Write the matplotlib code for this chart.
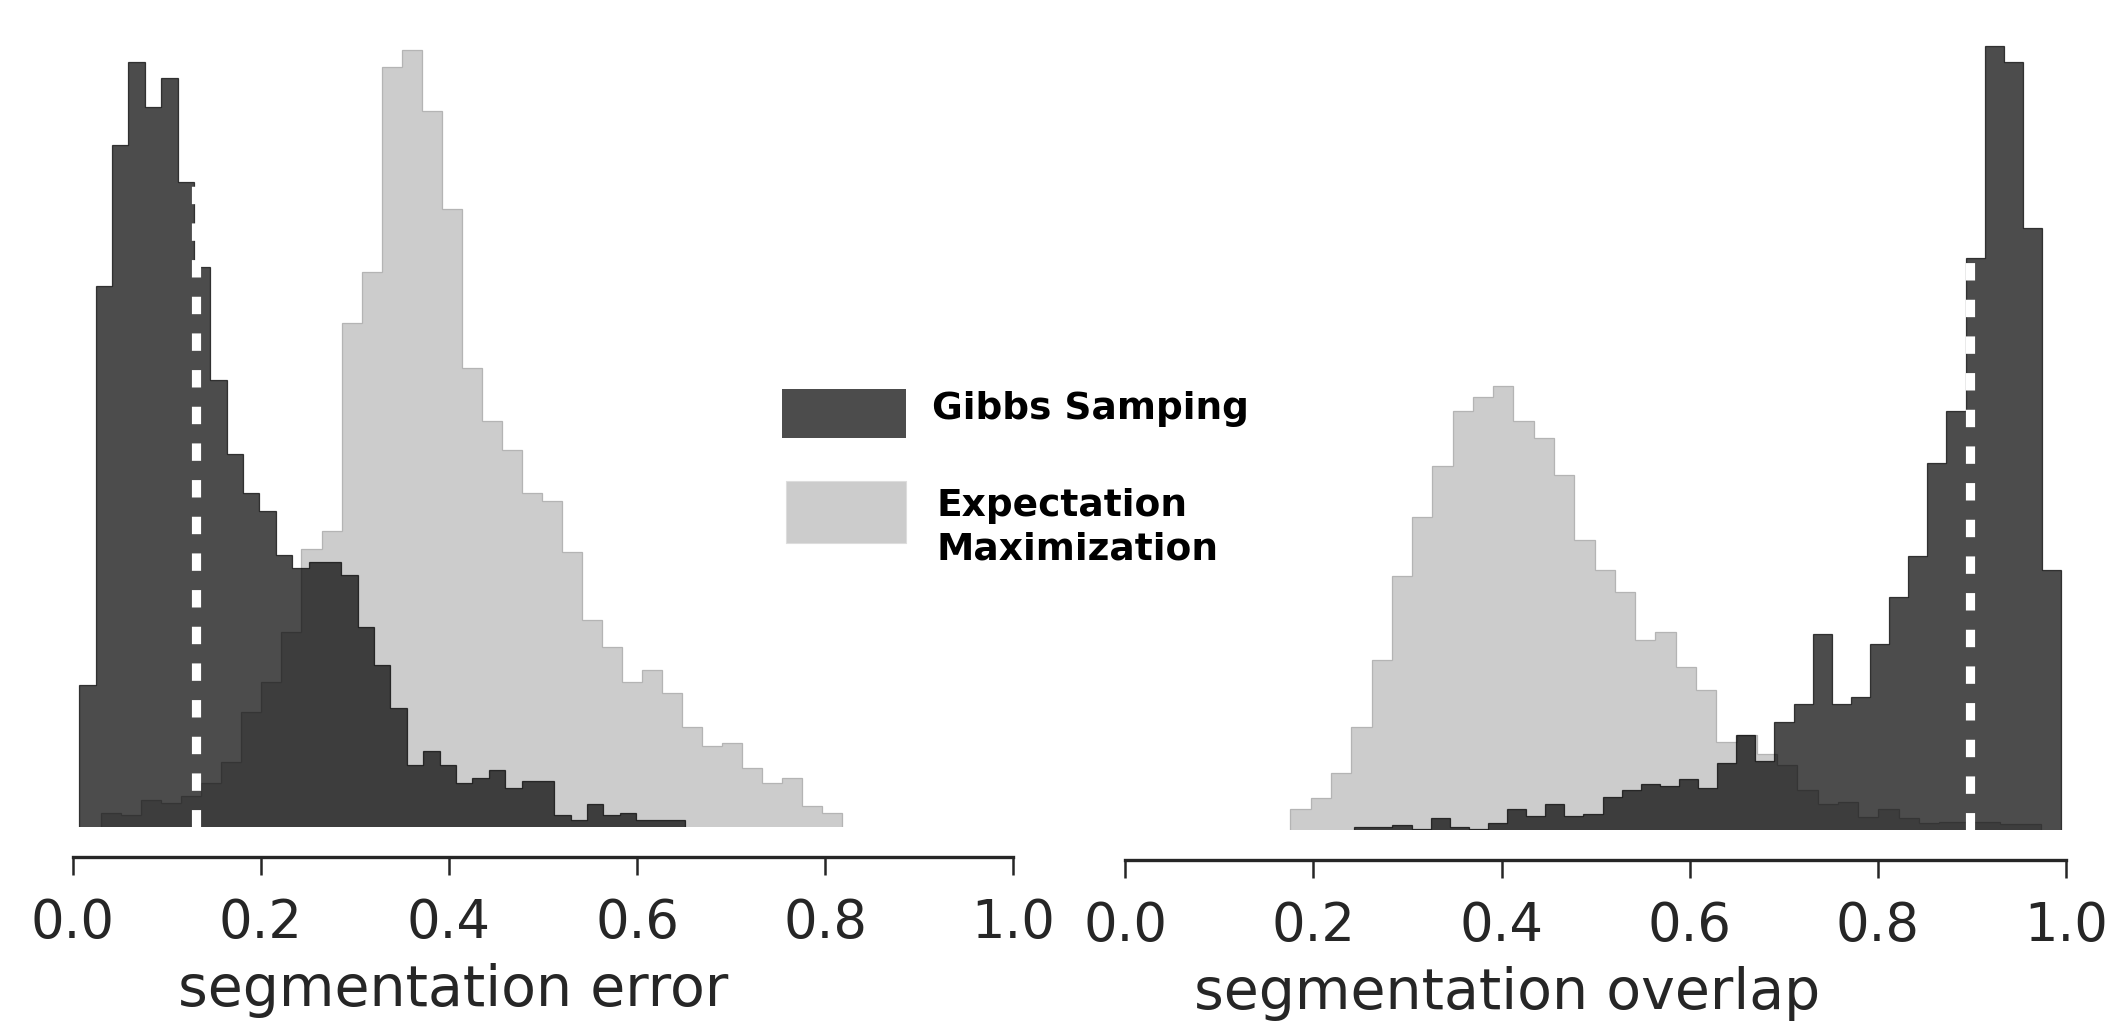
import numpy as np
import matplotlib
matplotlib.use("Agg")
import matplotlib.pyplot as plt
from matplotlib.patches import Rectangle

# --- Data: bin heights (37 bins per series, arbitrary count units) ---
# left panel: segmentation error
err_gibbs = [142.0, 541.3, 682.3, 765.0, 720.0, 749.0, 645.1, 559.9, 447.3, 373.5,
             333.7, 315.6, 272.2, 259.3, 265.0, 265.0, 252.1, 200.4, 161.7, 118.8,
             62.5, 75.7, 61.7, 43.7, 48.7, 56.7, 38.7, 45.7, 45.7, 11.7,
             7.0, 22.7, 11.7, 14.3, 6.7, 6.7, 6.7]
err_em = [14.5, 11.9, 27.4, 23.8, 31.0, 43.9, 65.1, 115.2, 145.1, 195.2,
          277.9, 296.5, 504.1, 555.3, 759.8, 777.4, 716.4, 618.3, 458.7, 406.0,
          377.1, 333.7, 325.9, 275.3, 206.6, 179.8, 145.1, 157.5, 134.3, 100.2,
          81.1, 83.7, 59.4, 43.9, 49.1, 20.7, 14.5]
err_gibbs_range = (0.0069, 0.6513)
err_em_range = (0.0303, 0.8180)
err_gibbs_median = 0.1307
err_median_height = 645

# right panel: segmentation overlap
ovl_gibbs = [2.7, 2.7, 4.7, 1.0, 11.7, 2.7, 1.0, 6.7, 20.7, 13.7,
             25.7, 13.7, 15.7, 32.7, 39.7, 45.7, 43.7, 50.7, 41.7, 66.7,
             95.0, 69.3, 108.5, 126.0, 196.3, 126.0, 133.3, 186.5, 233.0, 274.3,
             366.7, 418.9, 572.3, 783.6, 767.6, 602.3, 260.3]
ovl_em = [20.7, 32.5, 57.3, 103.3, 169.9, 254.1, 313.0, 364.2, 418.9, 432.9,
          444.2, 408.6, 392.0, 355.4, 289.8, 259.8, 237.6, 190.1, 197.8, 163.2,
          140.0, 87.8, 95.0, 76.0, 64.7, 40.0, 26.0, 27.7, 13.3, 21.0,
          12.0, 6.7, 7.7, 7.7, 7.7, 6.0, 6.0]
ovl_gibbs_range = (0.2435, 0.9946)
ovl_em_range = (0.1757, 0.9730)
ovl_gibbs_median = 0.8984
ovl_median_height = 570

series_names = ["Gibbs Samping", "Expectation\nMaximization"]
x_labels = ["segmentation error", "segmentation overlap"]
x_ticks = [0.0, 0.2, 0.4, 0.6, 0.8, 1.0]

# --- Styling ---
W, H, DPI = 2114, 1024, 100
EM_COLOR = "#cccccc"
EM_EDGE = "#b4b4b4"
GIBBS_COLOR = "black"
GIBBS_ALPHA = 0.7
TEXT_COLOR = "#262626"
Y_TOP = 787  # y-range of both panels (same units as the bin heights)

plt.rcParams["font.family"] = ["DejaVu Sans"]

fig = plt.figure(figsize=(W / DPI, H / DPI), dpi=DPI)


def px_axes(x0, x1, y_base):
    # axes box given in pixel coordinates of the final image
    return fig.add_axes([x0 / W, (H - y_base) / H, (x1 - x0) / W, Y_TOP / H])


def draw_panel(ax, em, em_range, gibbs, gibbs_range, median, median_h, xlabel, label_x):
    em_edges = np.linspace(em_range[0], em_range[1], len(em) + 1)
    gibbs_edges = np.linspace(gibbs_range[0], gibbs_range[1], len(gibbs) + 1)
    ax.stairs(em, em_edges, fill=True, facecolor=EM_COLOR, edgecolor=EM_EDGE, linewidth=0.9)
    ax.stairs(gibbs, gibbs_edges, fill=True, facecolor=GIBBS_COLOR, edgecolor=GIBBS_COLOR,
              alpha=GIBBS_ALPHA, linewidth=0.9)
    # median of the Gibbs samples
    ax.vlines(median, 0, median_h, colors="white", linewidth=6.6,
              linestyles=(0, (1.9, 2.1)))

    ax.set_xlim(0, 1)
    ax.set_ylim(0, Y_TOP)
    ax.set_yticks([])
    for side in ["top", "right", "left"]:
        ax.spines[side].set_visible(False)
    ax.spines["bottom"].set_position(("outward", 21.6))
    ax.spines["bottom"].set_linewidth(2.4)
    ax.spines["bottom"].set_color(TEXT_COLOR)
    ax.set_xticks(x_ticks)
    ax.set_xticklabels([f"{t:.1f}" for t in x_ticks])
    ax.tick_params(axis="x", direction="out", length=13, width=1.8, pad=15.5,
                   labelsize=38, colors=TEXT_COLOR)
    ax.set_xlabel(xlabel, fontsize=41, color=TEXT_COLOR, ha="left", va="baseline")
    ax.xaxis.set_label_coords(label_x, -0.2271)
    ax.patch.set_alpha(0)


ax_err = px_axes(72.8, 1013.2, 827)
draw_panel(ax_err, err_em, err_em_range, err_gibbs, err_gibbs_range,
           err_gibbs_median, err_median_height, x_labels[0], 0.1115)

ax_ovl = px_axes(1125.1, 2066.1, 830)
draw_panel(ax_ovl, ovl_em, ovl_em_range, ovl_gibbs, ovl_gibbs_range,
           ovl_gibbs_median, ovl_median_height, x_labels[1], 0.0734)

# --- Legend drawn by hand between the two panels ---
fig.add_artist(Rectangle((781.9 / W, (H - 438.3) / H), 123.6 / W, 49.3 / H,
                         transform=fig.transFigure, facecolor=GIBBS_COLOR,
                         alpha=GIBBS_ALPHA, edgecolor="none"))
fig.add_artist(Rectangle((786.0 / W, (H - 542.7) / H), 119.5 / W, 61.7 / H,
                         transform=fig.transFigure, facecolor=EM_COLOR,
                         edgecolor="#dddddd", linewidth=0.8))
fig.text(931.5 / W, (H - 419.3) / H, series_names[0], fontsize=27,
         fontweight="bold", color="black", ha="left", va="baseline")
# multi-line text: baseline alignment refers to the last line here
fig.text(937.0 / W, (H - 559.3) / H, series_names[1], fontsize=27,
         fontweight="bold", color="black", ha="left", va="baseline", linespacing=1.25)

fig.savefig("out.png", dpi=DPI, facecolor="white")
